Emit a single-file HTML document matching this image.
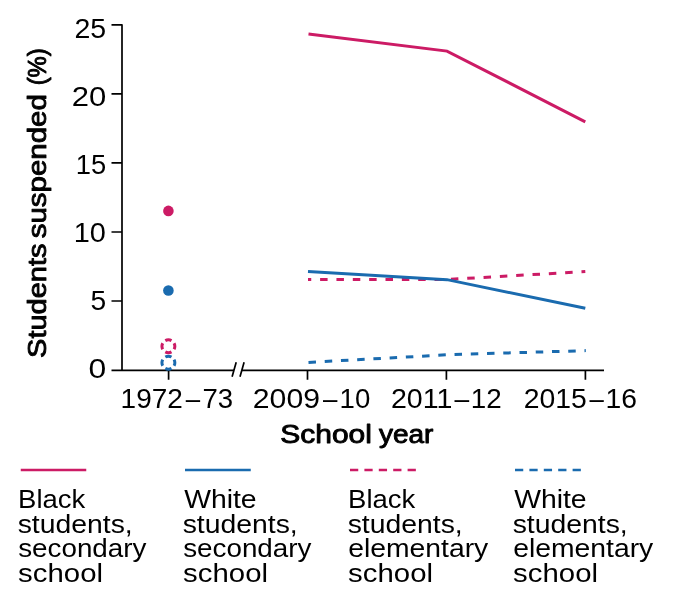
<!DOCTYPE html>
<html lang="en">
<head>
<meta charset="utf-8">
<title>Students suspended (%) by school year</title>
<style>
html,body{margin:0;padding:0;background:#fff;}
body{width:680px;height:600px;overflow:hidden;}
svg{display:block;will-change:transform;}
text{font-family:"Liberation Sans",sans-serif;fill:#000;}
.tick{font-size:27px;}
.leg{font-size:26px;}
.ttl{font-size:25.7px;stroke:#000;stroke-width:0.9px;stroke-linejoin:round;}
.ax{stroke:#000;stroke-width:1.7;fill:none;}
.pk{stroke:#cc1b65;}
.bl{stroke:#1a6baf;}
.ln{stroke-width:3;fill:none;}
.key{stroke-width:2.5;fill:none;}
</style>
</head>
<body>
<svg width="680" height="600" viewBox="0 0 680 600" role="img" aria-label="Line chart of students suspended (%) by school year">
<rect width="680" height="600" fill="#fff"/>

<!-- axes -->
<path class="ax" stroke-linejoin="round" d="M111.5,24.9H122V370.3"/>
<path class="ax" d="M111.5,370.3H234M242,370.3H604"/>
<path class="ax" d="M111.5,93.9H122M111.5,162.95H122M111.5,232H122M111.5,301H122"/>
<path class="ax" d="M168.6,370V379.8M307.5,370V379.8M446.4,370V379.8M585.4,370V379.8"/>
<!-- axis break -->
<path class="ax" d="M232.1,376.8L236.2,362.35M240,376.8L244.1,362.35"/>

<!-- 1972-73 markers -->
<circle cx="168.4" cy="210.9" r="5.3" fill="#cc1b65"/>
<circle cx="168.4" cy="290.5" r="5.3" fill="#1a6baf"/>
<circle class="ln pk" cx="168.4" cy="346.25" r="6.45" pathLength="40" stroke-dasharray="6.5 3.5" stroke-dashoffset="3.25"/>
<circle class="ln bl" cx="168.4" cy="362.7" r="6.45" pathLength="40" stroke-dasharray="6.5 3.5" stroke-dashoffset="3.25"/>

<!-- data lines -->
<polyline class="ln pk" points="308.5,34 447,51.1 585.3,121.8"/>
<polyline class="ln pk" points="308,279.4 447,279.5 585.3,271.6" stroke-dasharray="7.5 8.85" stroke-dashoffset="4.25"/>
<polyline class="ln bl" points="308,271.6 447,279.65 585.3,308.3"/>
<polyline class="ln bl" points="308.5,362.4 447,354.8 585.8,350.6" stroke-dasharray="7.5 8.75"/>

<!-- legend keys -->
<path class="key pk" d="M20.75,470H86.25"/>
<path class="key bl" d="M185,470H250.75"/>
<path class="key pk" d="M350,470H415.85" stroke-dasharray="8.25 6.15"/>
<path class="key bl" d="M515,470H580.85" stroke-dasharray="8.25 6.15"/>

<!-- text -->
<text class="tick"><tspan x="74.51" y="37.6" textLength="31.76" lengthAdjust="spacingAndGlyphs">25</tspan></text>
<text class="tick"><tspan x="71.78" y="105.7" textLength="34.52" lengthAdjust="spacingAndGlyphs">20</tspan></text>
<text class="tick"><tspan x="75.79" y="173.8" textLength="30.43" lengthAdjust="spacingAndGlyphs">15</tspan></text>
<text class="tick"><tspan x="73.66" y="241.9" textLength="32.15" lengthAdjust="spacingAndGlyphs">10</tspan></text>
<text class="tick"><tspan x="90.53" y="310" textLength="15.71" lengthAdjust="spacingAndGlyphs">5</tspan></text>
<text class="tick"><tspan x="88.60" y="378" textLength="17.72" lengthAdjust="spacingAndGlyphs">0</tspan></text>
<text class="tick"><tspan x="120.64" y="408.3" textLength="62.27" lengthAdjust="spacingAndGlyphs">1972</tspan><tspan x="185.78" y="408.3" textLength="14.42" lengthAdjust="spacingAndGlyphs">–</tspan><tspan x="202.43" y="408.3" textLength="30.63" lengthAdjust="spacingAndGlyphs">73</tspan></text>
<text class="tick"><tspan x="252.83" y="408.3" textLength="67.15" lengthAdjust="spacingAndGlyphs">2009</tspan><tspan x="323.08" y="408.3" textLength="14.42" lengthAdjust="spacingAndGlyphs">–</tspan><tspan x="339.57" y="408.3" textLength="30.69" lengthAdjust="spacingAndGlyphs">10</tspan></text>
<text class="tick"><tspan x="390.91" y="408.3" textLength="61.48" lengthAdjust="spacingAndGlyphs">2011</tspan><tspan x="454.58" y="408.3" textLength="14.72" lengthAdjust="spacingAndGlyphs">–</tspan><tspan x="470.85" y="408.3" textLength="30.92" lengthAdjust="spacingAndGlyphs">12</tspan></text>
<text class="tick"><tspan x="523.82" y="408.3" textLength="63.07" lengthAdjust="spacingAndGlyphs">2015</tspan><tspan x="589.58" y="408.3" textLength="14.32" lengthAdjust="spacingAndGlyphs">–</tspan><tspan x="605.41" y="408.3" textLength="31.48" lengthAdjust="spacingAndGlyphs">16</tspan></text>
<text class="ttl"><tspan x="280.26" y="443.1" textLength="91.66" lengthAdjust="spacingAndGlyphs">School</tspan> <tspan x="379.06" y="443.1" textLength="54.39" lengthAdjust="spacingAndGlyphs">year</tspan></text>
<text class="ttl" transform="translate(46.4,356.7) rotate(-90)"><tspan x="-1.20" y="0" textLength="114.36" lengthAdjust="spacingAndGlyphs">Students</tspan> <tspan x="118.47" y="0" textLength="144.11" lengthAdjust="spacingAndGlyphs">suspended</tspan> <tspan x="271.36" y="0" textLength="37.15" lengthAdjust="spacingAndGlyphs">(%)</tspan></text>
<text class="leg"><tspan x="18.05" y="508.1" textLength="67.23" lengthAdjust="spacingAndGlyphs">Black</tspan> <tspan x="17.67" y="532.6" textLength="115.10" lengthAdjust="spacingAndGlyphs">students,</tspan> <tspan x="18.20" y="557.2" textLength="128.25" lengthAdjust="spacingAndGlyphs">secondary</tspan> <tspan x="18.12" y="581.8" textLength="84.87" lengthAdjust="spacingAndGlyphs">school</tspan></text>
<text class="leg"><tspan x="184.15" y="508.1" textLength="72.52" lengthAdjust="spacingAndGlyphs">White</tspan> <tspan x="182.67" y="532.6" textLength="115.10" lengthAdjust="spacingAndGlyphs">students,</tspan> <tspan x="183.20" y="557.2" textLength="128.25" lengthAdjust="spacingAndGlyphs">secondary</tspan> <tspan x="183.12" y="581.8" textLength="84.87" lengthAdjust="spacingAndGlyphs">school</tspan></text>
<text class="leg"><tspan x="348.05" y="508.1" textLength="67.23" lengthAdjust="spacingAndGlyphs">Black</tspan> <tspan x="347.67" y="532.6" textLength="115.10" lengthAdjust="spacingAndGlyphs">students,</tspan> <tspan x="348.17" y="557.2" textLength="140.11" lengthAdjust="spacingAndGlyphs">elementary</tspan> <tspan x="348.12" y="581.8" textLength="84.87" lengthAdjust="spacingAndGlyphs">school</tspan></text>
<text class="leg"><tspan x="514.15" y="508.1" textLength="72.52" lengthAdjust="spacingAndGlyphs">White</tspan> <tspan x="512.67" y="532.6" textLength="115.10" lengthAdjust="spacingAndGlyphs">students,</tspan> <tspan x="513.17" y="557.2" textLength="140.11" lengthAdjust="spacingAndGlyphs">elementary</tspan> <tspan x="513.12" y="581.8" textLength="84.87" lengthAdjust="spacingAndGlyphs">school</tspan></text>
</svg>
</body>
</html>
